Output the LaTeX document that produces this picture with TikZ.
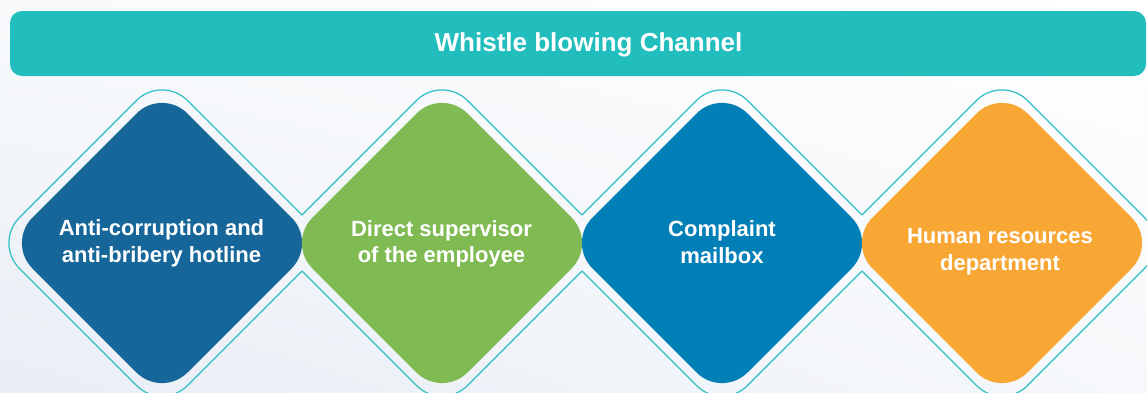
\documentclass[tikz,border=0pt]{standalone}
\usepackage{fontspec}
\setmainfont{Liberation Sans}
\usetikzlibrary{shadings}

\definecolor{bannerteal}{HTML}{22BDBD}
\definecolor{lineteal}{HTML}{2DBEC6}
\definecolor{hotlineblue}{HTML}{166699}
\definecolor{supervisorgreen}{HTML}{7FBB52}
\definecolor{mailboxblue}{HTML}{037FB7}
\definecolor{hrorange}{HTML}{F8A634}
\definecolor{bgtopleft}{HTML}{F8FAFC}
\definecolor{bgbottomleft}{HTML}{E9EEF5}
\definecolor{bgbottomright}{HTML}{F6F8FB}

\tikzset{every picture/.style={line width=0.75pt}}
\tikzset{
  banner/.style={rectangle, rounded corners=9pt, fill=bannerteal, minimum width=852pt, minimum height=48.75pt, inner sep=0pt, outer sep=0pt},
  chanline/.style={draw=lineteal, line width=0.9pt, rounded corners=27pt},
  chanfill/.style={rounded corners=27pt},
  titletext/.style={text=white, font=\fontsize{19.5}{23}\selectfont\bfseries, inner sep=0.75pt},
  chantext/.style={text=white, font=\fontsize{16.5}{20}\selectfont\bfseries, align=center, inner sep=0.75pt}
}
% #1 = centre x, #2 = half diagonal
\newcommand{\chanpath}[2]{({#1-#2/2},{243-#2/2}) -- (#1,{243-#2}) -- ({#1+#2},243) -- (#1,{243+#2}) -- ({#1-#2},243) -- cycle}

\begin{document}
\begin{tikzpicture}[x=0.75pt,y=0.75pt,yscale=-1,xscale=1]
		\useasboundingbox (0,0) rectangle (1147,393);
		\clip (0,0) rectangle (1147,393);
		
		%Shape: Background
		\shade [upper left=bgtopleft, upper right=white, lower left=bgbottomleft, lower right=bgbottomright] (0,0) rectangle (1147,393);
		
		%Shape: Rounded Rect
		\node [banner] (banner) at (578,43.5) {};
		% Text Node
		\node [titletext, anchor=base] (title) at (588.5,51) {Whistle blowing Channel};
		
		%Shape: Diamond outlines (only the outer border of their union)
		\foreach \cx/\lx/\rx in {162/-2000/442, 442/162/722, 722/442/1002, 1002/722/3000}{
			\begin{scope}[even odd rule, rounded corners=27pt]
				\clip (-100,-100) rectangle (1300,500) \chanpath{\lx}{168} \chanpath{\rx}{168};
				\draw [chanline] \chanpath{\cx}{168};
			\end{scope}
		}
		
		%Shape: Diamonds
		\fill [chanfill, fill=hotlineblue] \chanpath{162}{155};
		\fill [chanfill, fill=supervisorgreen] \chanpath{442}{155};
		\fill [chanfill, fill=mailboxblue] \chanpath{722}{155};
		\fill [chanfill, fill=hrorange] \chanpath{1002}{155};
		
		% Text Node
		\node [chantext] (hotline) at (161.5,243) {Anti-corruption and\\anti-bribery hotline};
		% Text Node
		\node [chantext] (supervisor) at (441.5,243.7) {Direct supervisor\\of the employee};
		% Text Node
		\node [chantext] (mailbox) at (722,242) {Complaint\\mailbox};
		% Text Node
		\node [chantext] (hr) at (1000,251.6) {Human resources\\department};
		
\end{tikzpicture}
\end{document}
